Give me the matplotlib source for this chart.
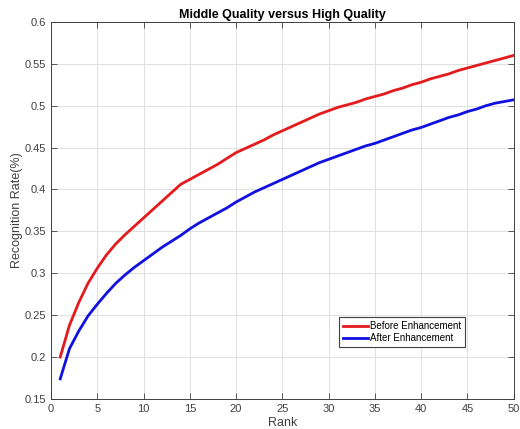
import matplotlib
matplotlib.use("Agg")
import matplotlib.pyplot as plt

rank = list(range(1, 51))
before = [0.200, 0.238, 0.265, 0.288, 0.306, 0.322, 0.335, 0.346, 0.356, 0.366,
          0.376, 0.386, 0.396, 0.406, 0.412, 0.418, 0.424, 0.430, 0.437, 0.444,
          0.449, 0.454, 0.459, 0.465, 0.470, 0.475, 0.480, 0.485, 0.490, 0.494,
          0.498, 0.501, 0.504, 0.508, 0.511, 0.514, 0.518, 0.521, 0.525, 0.528,
          0.532, 0.535, 0.538, 0.542, 0.545, 0.548, 0.551, 0.554, 0.557, 0.560]
after = [0.174, 0.210, 0.231, 0.249, 0.263, 0.276, 0.288, 0.298, 0.307, 0.315,
         0.323, 0.331, 0.338, 0.345, 0.353, 0.360, 0.366, 0.372, 0.378, 0.385,
         0.391, 0.397, 0.402, 0.407, 0.412, 0.417, 0.422, 0.427, 0.432, 0.436,
         0.440, 0.444, 0.448, 0.452, 0.455, 0.459, 0.463, 0.467, 0.471, 0.474,
         0.478, 0.482, 0.486, 0.489, 0.493, 0.496, 0.500, 0.503, 0.505, 0.507]
xticks = list(range(0, 51, 5))
yticks = [0.15, 0.2, 0.25, 0.3, 0.35, 0.4, 0.45, 0.5, 0.55, 0.6]
ytick_labels = ["0.15", "0.2", "0.25", "0.3", "0.35", "0.4", "0.45", "0.5", "0.55", "0.6"]

plt.rcParams["font.family"] = ["Liberation Sans", "DejaVu Sans"]
fig = plt.figure(figsize=(5.2, 4.29), dpi=100)
ax = fig.add_axes([0.098, 0.070, 0.890, 0.879])

ax.plot(rank, before, color="#e41a1c", lw=2, label="Before Enhancement")
ax.plot(rank, after, color="#1010e0", lw=2, label="After Enhancement")

ax.set_xlim(0, 50)
ax.set_ylim(0.15, 0.6)
ax.set_xticks(xticks)
ax.set_yticks(yticks)
ax.set_yticklabels(ytick_labels)
ax.tick_params(direction="in", top=True, right=True, labelsize=8,
               colors="#404040", length=4, width=0.6)
ax.grid(True, color="#e0e0e0", lw=0.7)
for s in ax.spines.values():
    s.set_color("#404040")
    s.set_linewidth(0.7)

ax.set_xlabel("Rank", fontsize=9, color="#404040", labelpad=2)
ax.set_ylabel("Recognition Rate(%)", fontsize=9, color="#404040", labelpad=1)
ax.set_title("Middle Quality versus High Quality", fontsize=9, fontweight="bold",
             pad=3)

leg = ax.legend(loc="lower left", bbox_to_anchor=(0.612, 0.125), fontsize=7,
                fancybox=False, edgecolor="#404040", framealpha=1,
                handlelength=2.6, borderpad=0.4, labelspacing=0.2,
                handletextpad=0.2)
leg.get_frame().set_linewidth(0.8)

fig.savefig("out.png", dpi=100)
